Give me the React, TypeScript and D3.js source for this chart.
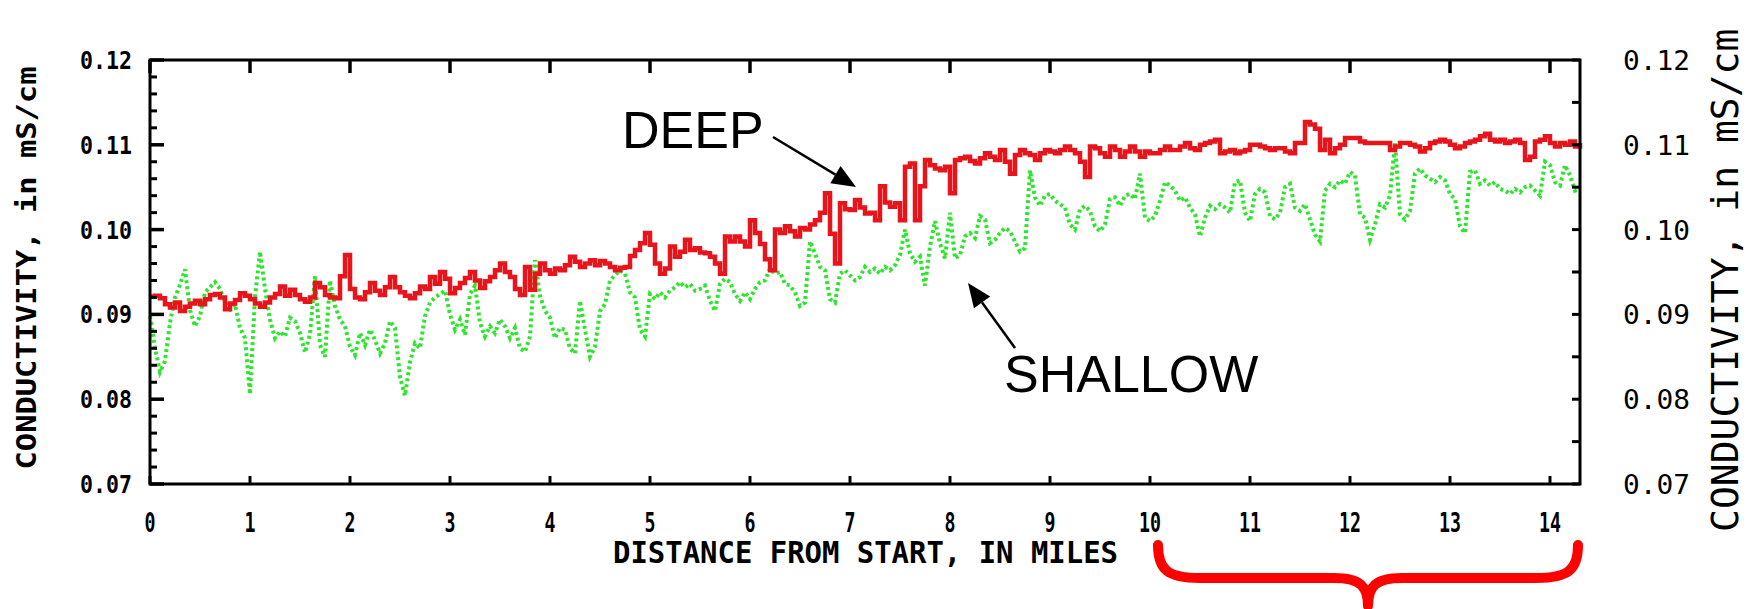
import React from "react";
import * as d3 from "d3";

// Values in thousandths of mS/cm, sampled every 0.05 mile from 0 to 14.30
const distanceStep = 0.05;

const deepValues = [
  92.1, 92.2, 91.9, 91.2, 90.8, 91.4, 90.4, 90.9, 91.3, 91.6, 91.2, 91.8, 92.3, 92.4, 92.0, 90.6, 91.3, 91.7, 92.5, 92.2,
  91.8, 91.3, 90.9, 91.4, 92.0, 92.4, 93.3, 92.2, 92.9, 92.3, 91.8, 91.5, 92.0, 93.7, 93.2, 92.3, 92.0, 91.9, 94.5, 97.0,
  93.0, 92.0, 91.8, 92.6, 93.7, 92.8, 92.3, 93.2, 94.4, 93.2, 92.6, 92.2, 91.9, 92.5, 93.3, 93.0, 94.4, 93.6, 95.0, 94.2,
  92.5, 93.1, 93.7, 94.3, 95.0, 94.0, 93.1, 93.9, 94.4, 95.2, 96.0, 95.0, 94.4, 93.0, 92.3, 95.6, 92.9, 94.8, 96.0, 95.2,
  94.8, 95.4, 95.2, 95.8, 96.8, 96.2, 95.6, 96.0, 96.4, 95.8, 96.3, 96.0, 95.6, 95.2, 95.5, 95.6, 96.9, 97.6, 98.4, 99.6,
  98.2, 96.0, 94.8, 95.4, 98.0, 96.8, 97.4, 98.8, 97.6, 97.8, 97.3, 97.2, 96.8, 96.0, 94.8, 99.2, 98.6, 99.2, 98.6, 98.0,
  101.1, 99.6, 98.3, 96.5, 95.2, 100.0, 99.6, 100.4, 99.8, 99.2, 100.2, 100.0, 100.6, 101.1, 102.0, 104.3, 99.5, 96.0, 103.1, 102.4,
  102.3, 103.5, 102.6, 101.9, 102.0, 101.1, 105.1, 103.2, 102.7, 103.1, 101.1, 107.4, 107.8, 101.1, 105.1, 108.2, 107.6, 107.2, 107.0, 107.4,
  104.3, 108.2, 108.4, 108.6, 108.1, 107.8, 108.4, 109.0, 108.6, 108.2, 109.4, 108.0, 106.6, 108.8, 109.4, 109.0, 108.8, 108.2, 109.0, 109.4,
  109.2, 109.0, 109.4, 109.8, 109.4, 109.0, 108.0, 106.2, 109.8, 109.6, 109.0, 108.6, 109.8, 109.4, 108.6, 109.2, 109.8, 109.2, 108.6, 109.2,
  109.0, 109.0, 109.4, 109.8, 109.4, 109.4, 109.8, 110.2, 109.6, 109.4, 110.0, 110.2, 110.4, 110.6, 109.0, 109.2, 109.4, 109.0, 109.2, 109.4,
  110.0, 110.0, 109.8, 109.6, 109.4, 109.6, 109.6, 109.2, 109.0, 110.2, 110.2, 112.7, 112.4, 111.9, 109.4, 110.6, 109.0, 109.6, 110.0, 110.8,
  110.8, 110.8, 110.4, 110.2, 110.2, 110.2, 110.2, 110.2, 109.4, 109.8, 110.2, 110.2, 110.0, 109.8, 109.2, 109.6, 110.2, 110.4, 110.6, 110.4,
  110.0, 109.6, 109.8, 110.2, 110.4, 110.6, 111.0, 111.3, 110.6, 110.4, 110.6, 110.2, 110.4, 110.6, 110.2, 108.2, 108.6, 110.4, 110.6, 111.0,
  110.2, 109.8, 110.2, 110.0, 110.4, 109.8, 110.2,
];

const shallowValues = [
  89.8, 86.0, 83.2, 84.5, 89.0, 92.0, 93.5, 95.3, 90.5, 88.6, 89.8, 92.6, 93.2, 93.8, 93.0, 91.5, 90.6, 91.2, 88.4, 87.2,
  80.6, 92.0, 97.4, 93.0, 89.4, 87.2, 88.0, 87.4, 89.6, 89.2, 87.8, 85.5, 87.6, 94.5, 86.4, 85.0, 94.0, 91.0, 89.4, 88.6,
  86.2, 85.2, 87.8, 86.4, 88.2, 87.0, 85.4, 86.6, 89.2, 88.4, 82.6, 80.4, 84.4, 86.6, 86.0, 89.8, 91.4, 92.0, 92.4, 92.8,
  90.0, 88.2, 89.4, 87.6, 92.4, 93.4, 89.0, 87.4, 88.6, 87.8, 89.4, 88.6, 87.2, 88.4, 86.0, 85.6, 87.4, 96.4, 92.2, 90.4,
  89.6, 87.2, 88.4, 88.2, 86.0, 85.4, 91.6, 88.2, 85.0, 86.2, 90.4, 91.2, 94.0, 94.6, 95.2, 94.8, 92.6, 92.0, 88.2, 87.4,
  92.4, 91.8, 92.6, 92.0, 92.8, 93.2, 93.8, 93.2, 93.6, 92.8, 93.0, 93.4, 91.6, 90.4, 93.6, 94.2, 93.8, 92.4, 91.6, 92.6,
  91.8, 93.0, 93.8, 94.0, 95.4, 94.8, 95.0, 93.6, 93.4, 92.6, 91.0, 91.4, 98.6, 97.2, 95.6, 95.2, 91.8, 91.4, 94.8, 95.2,
  94.6, 94.0, 94.4, 95.6, 95.0, 95.4, 94.8, 95.6, 95.2, 95.8, 97.0, 100.0, 97.2, 96.2, 96.8, 93.4, 98.0, 101.0, 98.4, 96.6,
  102.0, 96.6, 97.0, 99.2, 99.6, 99.0, 101.6, 101.2, 98.4, 98.8, 99.6, 100.2, 99.8, 98.6, 97.4, 97.8, 107.0, 103.8, 102.8, 104.0,
  104.2, 103.4, 103.0, 102.6, 100.6, 100.0, 102.4, 102.8, 102.2, 100.4, 99.8, 100.6, 103.6, 103.8, 102.8, 104.0, 104.2, 103.6, 106.6, 101.4,
  101.0, 101.6, 103.4, 105.6, 105.2, 104.6, 103.4, 103.8, 102.6, 101.8, 99.2, 101.4, 102.8, 102.4, 103.0, 102.6, 102.0, 105.6, 105.8, 102.0,
  101.0, 104.2, 104.8, 104.4, 101.6, 101.2, 102.0, 105.0, 105.4, 102.6, 102.2, 103.0, 101.2, 99.4, 98.6, 104.6, 105.4, 105.0, 105.8, 105.4,
  106.8, 106.4, 101.8, 101.4, 98.8, 100.6, 103.0, 102.6, 104.0, 110.2, 101.8, 101.2, 102.2, 106.6, 107.2, 106.4, 106.0, 105.6, 106.2, 105.8,
  104.2, 103.6, 100.4, 99.6, 106.8, 107.0, 105.4, 105.8, 105.2, 105.6, 104.8, 104.6, 104.2, 104.8, 104.4, 105.0, 105.2, 104.6, 104.0, 108.0,
  107.6, 105.6, 105.2, 107.6, 106.4, 104.6, 104.8,
];

const xTicks = [0, 1, 2, 3, 4, 5, 6, 7, 8, 9, 10, 11, 12, 13, 14];
const xTickLabels = ["0", "1", "2", "3", "4", "5", "6", "7", "8", "9", "10", "11", "12", "13", "14"];
const yTicks = [70, 80, 90, 100, 110, 120];
const yTickLabels = ["0.07", "0.08", "0.09", "0.10", "0.11", "0.12"];
const yMinorTicks = [72, 74, 76, 78, 82, 84, 86, 88, 92, 94, 96, 98, 102, 104, 106, 108, 112, 114, 116, 118];
const yRightTicks = [75, 85, 95, 105, 115];

const W = 1753;
const H = 609;
const plot = { left: 150, right: 1580, top: 60, bottom: 484 };
const mono = "'DejaVu Sans Mono', monospace";
const sans = "'Liberation Sans', Arial, sans-serif";
const RED = "#e8141c";
const GREEN = "#2ee42e";

function arrow(x1: number, y1: number, x2: number, y2: number, len = 24, hw = 10) {
  const dx = x2 - x1, dy = y2 - y1;
  const L = Math.hypot(dx, dy);
  const ux = dx / L, uy = dy / L;
  const bx = x2 - ux * len, by = y2 - uy * len;
  const pts = `${x2},${y2} ${bx - uy * hw},${by + ux * hw} ${bx + uy * hw},${by - ux * hw}`;
  return (
    <g>
      <line x1={x1} y1={y1} x2={bx} y2={by} stroke="#000" strokeWidth={2.5} />
      <polygon points={pts} fill="#000" />
    </g>
  );
}

export default function App() {
  const x = d3.scaleLinear().domain([0, 14.3]).range([plot.left, plot.right]);
  const y = d3.scaleLinear().domain([70, 120]).range([plot.bottom, plot.top]);

  const deepLine = d3
    .line<number>()
    .x((_, i) => x(i * distanceStep))
    .y((v) => y(v))
    .curve(d3.curveStepAfter);
  const shallowLine = d3
    .line<number>()
    .x((_, i) => x(i * distanceStep))
    .y((v) => y(v));

  const braceStart = x(10.08);
  const braceEnd = x(14.28);
  const bc = (braceStart + braceEnd) / 2;
  const bTop = 545, bBar = 578, bTip = 606;
  const bracePath =
    `M${braceStart},${bTop} C${braceStart},${bBar - 8} ${braceStart + 10},${bBar} ${braceStart + 42},${bBar} ` +
    `L${bc - 34},${bBar} C${bc - 8},${bBar} ${bc},${bBar + 8} ${bc},${bTip} ` +
    `M${braceEnd},${bTop} C${braceEnd},${bBar - 8} ${braceEnd - 10},${bBar} ${braceEnd - 42},${bBar} ` +
    `L${bc + 34},${bBar} C${bc + 8},${bBar} ${bc},${bBar + 8} ${bc},${bTip}`;

  return (
    <svg
      width={W}
      height={H}
      style={{ position: "absolute", left: 0, top: 0, background: "#fff" }}
    >
      <rect x={0} y={0} width={W} height={H} fill="#fff" />

      {/* data */}
      <path d={shallowLine(shallowValues) || ""} fill="none" stroke={GREEN} strokeWidth={4} strokeDasharray="3 3" />
      <path d={deepLine(deepValues) || ""} fill="none" stroke={RED} strokeWidth={4.5} strokeLinejoin="miter" />

      {/* frame */}
      <rect
        x={plot.left}
        y={plot.top}
        width={plot.right - plot.left}
        height={plot.bottom - plot.top}
        fill="none"
        stroke="#000"
        strokeWidth={3}
      />

      {/* ticks */}
      {xTicks.map((t) => (
        <g key={"xt" + t}>
          <line x1={x(t)} x2={x(t)} y1={plot.top} y2={plot.top + 13} stroke="#000" strokeWidth={3.5} />
          <line x1={x(t)} x2={x(t)} y1={plot.bottom} y2={plot.bottom - 8} stroke="#000" strokeWidth={3} />
        </g>
      ))}
      {yTicks.map((t) => (
        <line key={"yt" + t} x1={plot.left} x2={plot.left + 14} y1={y(t)} y2={y(t)} stroke="#000" strokeWidth={3.5} />
      ))}
      {yMinorTicks.map((t) => (
        <line key={"ym" + t} x1={plot.left} x2={plot.left + 7} y1={y(t)} y2={y(t)} stroke="#000" strokeWidth={3} />
      ))}
      {yRightTicks.concat(yTicks).map((t) => (
        <line key={"yr" + t} x1={plot.right} x2={plot.right - 8} y1={y(t)} y2={y(t)} stroke="#000" strokeWidth={3} />
      ))}

      {/* tick labels */}
      {yTicks.map((t, i) => (
        <text
          key={"yl" + t}
          x={132}
          y={y(t) + 9}
          textAnchor="end"
          fontFamily={mono}
          fontWeight="bold"
          fontSize={25}
          textLength={52}
          lengthAdjust="spacingAndGlyphs"
        >
          {yTickLabels[i]}
        </text>
      ))}
      {yTicks.map((t, i) => (
        <text
          key={"yr" + t}
          x={1623}
          y={y(t) + 10}
          fontFamily={mono}
          fontSize={26}
          textLength={67}
          lengthAdjust="spacingAndGlyphs"
        >
          {yTickLabels[i]}
        </text>
      ))}
      {xTicks.map((t, i) => (
        <text
          key={"xl" + t}
          x={x(t)}
          y={532}
          textAnchor="middle"
          fontFamily={mono}
          fontWeight="bold"
          fontSize={26}
          textLength={11 * xTickLabels[i].length}
          lengthAdjust="spacingAndGlyphs"
        >
          {xTickLabels[i]}
        </text>
      ))}

      {/* axis titles */}
      <text
        x={613}
        y={563}
        fontFamily={mono}
        fontWeight="bold"
        fontSize={30}
        textLength={505}
        lengthAdjust="spacingAndGlyphs"
      >
        DISTANCE FROM START, IN MILES
      </text>
      <text
        transform="translate(36,268) rotate(-90)"
        textAnchor="middle"
        fontFamily={mono}
        fontWeight="bold"
        fontSize={27}
        textLength={403}
        lengthAdjust="spacingAndGlyphs"
      >
        CONDUCTIVITY, in mS/cm
      </text>
      <text
        transform="translate(1738,532) rotate(-90)"
        fontFamily={mono}
        fontSize={38}
      >
        CONDUCTIVITY, in mS/cm
      </text>

      {/* annotations */}
      <text x={622} y={148} fontFamily={sans} fontSize={52}>
        DEEP
      </text>
      {arrow(773, 137, 856, 187)}
      <text x={1004} y={392} fontFamily={sans} fontSize={52}>
        SHALLOW
      </text>
      {arrow(1015, 348, 968, 283)}

      {/* brace */}
      <path d={bracePath} fill="none" stroke="#ff0000" strokeWidth={10} strokeLinecap="round" strokeLinejoin="round" />
    </svg>
  );
}
